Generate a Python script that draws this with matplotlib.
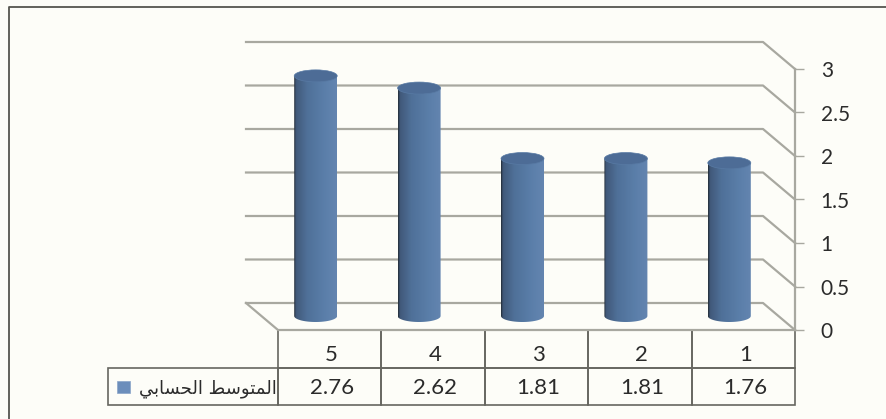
import matplotlib
matplotlib.use('Agg')
import matplotlib.pyplot as plt
import numpy as np
from matplotlib.colors import LinearSegmentedColormap
from matplotlib.patches import Ellipse, PathPatch, Rectangle
from matplotlib.path import Path
from matplotlib.transforms import Affine2D

categories = [5, 4, 3, 2, 1]
values = [2.76, 2.62, 1.81, 1.81, 1.76]
value_labels = ['2.76', '2.62', '1.81', '1.81', '1.76']
y_ticks = [0, 0.5, 1, 1.5, 2, 2.5, 3]
y_tick_labels = ['0', '0.5', '1', '1.5', '2', '2.5', '3']
# presentation forms in visual order, matplotlib does not shape arabic
series_name = '\ufef2\ufe91\ufe8e\ufeb4\ufea4\ufedf\ufe8d \ufec2\ufeb3\ufeee\ufe98\ufee4\ufedf\ufe8d'

W, H = 886, 419
bg = '#fdfdf8'
line_col = '#a8a8a0'
table_col = '#666660'
text_col = '#2b2b2b'

plt.rcParams['font.family'] = ['Lato', 'DejaVu Sans']

fig = plt.figure(figsize=(W / 100, H / 100), dpi=100, facecolor=bg)
# front plane of the 3d box, pixels 278-795 / 69-330
ax = fig.add_axes([278 / W, 1 - 330 / H, 517 / W, 261 / H], facecolor='none')
x_per_px = 5 / 517
y_per_px = 3 / 261

# scan of the outer frame, only top and left edges are in the crop
fig.add_artist(plt.Line2D([9 / W, 9 / W, 1], [0, 1 - 7 / H, 1 - 7 / H], transform=fig.transFigure,
                          color='#55554f', lw=1.3))

# walls: back gridlines and the diagonal going to each tick
tr = ax.get_yaxis_transform()
dx = 32 / 517
dy = 27 * y_per_px
for v in y_ticks:
    ax.plot([1, 1 - dx, -dx], [v, v + dy, v + dy], transform=tr, color=line_col, lw=1.6,
            clip_on=False, zorder=1)
ax.plot([-dx, 0, 1], [dy, 0, 0], transform=tr, color=line_col, lw=1.6, clip_on=False, zorder=1)

# cylinders
cmap = LinearSegmentedColormap.from_list('cyl', [(0, '#26303c'), (0.04, '#41597a'), (0.3, '#4f7098'),
                                                 (0.7, '#5a7ea9'), (1, '#6485b0')])
grad = np.linspace(0, 1, 64).reshape(1, -1)
bar_w = 43 * x_per_px
cap_h = 12 * y_per_px
shift = 14 * x_per_px
base = 14 * y_per_px
for c, v in zip(categories, values):
    xc = c + shift
    xl = xc + bar_w / 2
    xr = xc - bar_w / 2
    top = base + v
    t = np.linspace(0, np.pi, 30)
    px = np.concatenate([[xl], xc + bar_w / 2 * np.cos(t), [xr]])
    py = np.concatenate([[top], base - cap_h / 2 * np.sin(t), [top]])
    body = PathPatch(Path(np.column_stack([px, py])), fc='none', ec='none', transform=ax.transData)
    ax.add_patch(body)
    im = ax.imshow(grad, cmap=cmap, extent=[xl, xr, base - cap_h, top], aspect='auto', zorder=3,
                   interpolation='bilinear', clip_on=True)
    im.set_clip_path(body)
    ax.add_patch(Ellipse((xc, top), bar_w, cap_h, fc='#4d6c96', ec='#587aa4', lw=0.5, zorder=4))

ax.set_xlim(5.5, 0.5)
ax.set_ylim(0, 3)
ax.set_xticks([])
ax.yaxis.tick_right()
ax.set_yticks(y_ticks)
ax.set_yticklabels(y_tick_labels, fontsize=15, color=text_col, ha='left')
ax.tick_params(axis='y', length=6.5, width=1, color=line_col, pad=12)
for s in ['left', 'top', 'bottom']:
    ax.spines[s].set_visible(False)
ax.spines['right'].set_color(line_col)
ax.spines['right'].set_linewidth(1.6)

# data table under the chart, first column holds the series name
tb_left = (278 - 108) / 517
tb = ax.table(cellText=[[''] + [str(c) for c in categories], [series_name] + value_labels],
              colWidths=[tb_left] + [0.2] * 5, cellLoc='center',
              bbox=[-tb_left, -75 / 261, 1 + tb_left, 75 / 261])
tb.auto_set_font_size(False)
for (row, col), cell in tb.get_celld().items():
    cell.set_edgecolor(table_col)
    cell.set_linewidth(1.2)
    cell.set_facecolor('none')
    cell.get_text().set_fontsize(16)
    cell.get_text().set_color(text_col)
    # text sits low in the cells of the original
    cell.get_text().set_transform(Affine2D().translate(2, -6 if row == 0 else -2))
tb[(0, 0)].set_visible(False)
name_cell = tb[(1, 0)]
name_cell.get_text().set_fontfamily('DejaVu Sans')
name_cell.get_text().set_fontsize(13)
name_cell.set_text_props(ha='right')
name_cell.PAD = 0.02

# legend key inside the table
fig.add_artist(Rectangle((117 / W, 1 - 393 / H), 13 / W, 12 / H, transform=fig.transFigure,
                         fc='#6c8ebb', ec='#8aa5c9', lw=0.5))

fig.savefig('out.png', dpi=100, facecolor=bg)
